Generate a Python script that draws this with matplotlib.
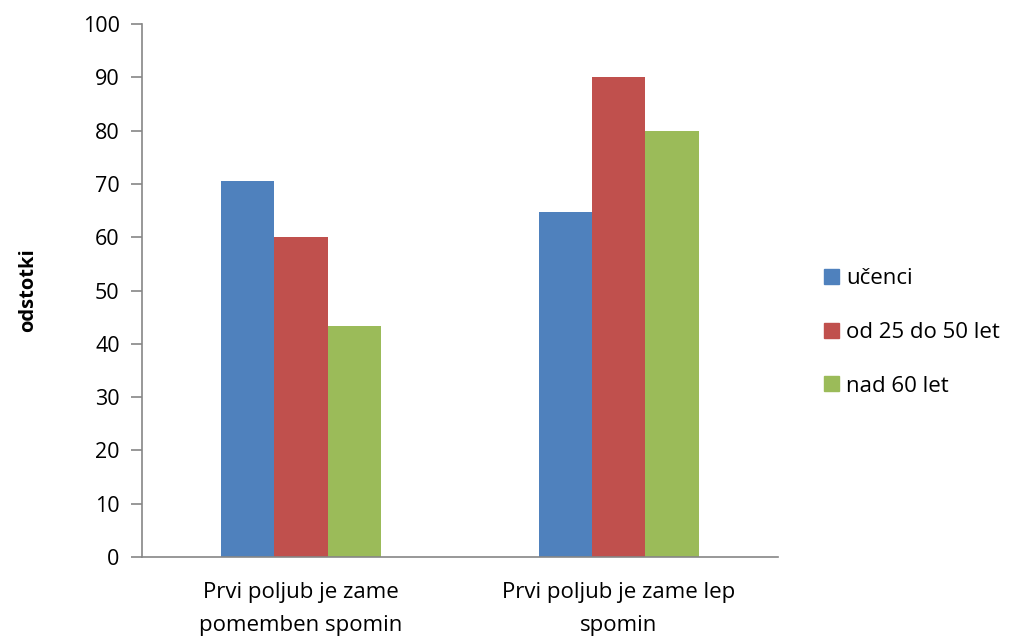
import numpy as np
import matplotlib.pyplot as plt
from matplotlib.patches import Patch

categories = ['Prvi poljub je zame\npomemben spomin', 'Prvi poljub je zame lep\nspomin']
series = ['učenci', 'od 25 do 50 let', 'nad 60 let']
values = [
    [70.6, 64.8],
    [60.0, 90.0],
    [43.4, 80.0],
]
colors = ['#4f81bd', '#c0504d', '#9bbb59']

plt.rcParams['font.family'] = ['Open Sans', 'DejaVu Sans']

fig = plt.figure(figsize=(10.09, 6.37), dpi=100)
ax = fig.add_axes([0.1407, 0.1256, 0.6303, 0.8367])

x = np.arange(len(categories))
width = 0.167
for i, (name, vals) in enumerate(zip(series, values)):
    ax.bar(x + (i - 1) * width, vals, width, color=colors[i], label=name)

ax.set_xlim(-0.5, 1.5)
ax.set_ylim(0, 100)
ax.set_yticks(np.arange(0, 101, 10))
ax.set_xticks(x)
ax.set_xticklabels(categories, fontsize=16, linespacing=1.75)
ax.tick_params(axis='x', length=0, pad=18)
ax.tick_params(axis='y', labelsize=15.5, length=8, width=1.2, color='#868686', direction='out', pad=8)

for s in ['top', 'right']:
    ax.spines[s].set_visible(False)
for s in ['left', 'bottom']:
    ax.spines[s].set_color('#868686')
    ax.spines[s].set_linewidth(1.2)

ax.set_ylabel('odstotki', fontsize=14.5, fontweight='bold', labelpad=32)

handles = [Patch(color=c, label=n) for c, n in zip(colors, series)]
fig.legend(handles=handles, loc='center left', bbox_to_anchor=(0.797, 0.478),
           frameon=False, fontsize=16, handlelength=0.65, handleheight=0.65,
           handletextpad=0.35, labelspacing=1.47)

fig.savefig('out.png', dpi=100)
